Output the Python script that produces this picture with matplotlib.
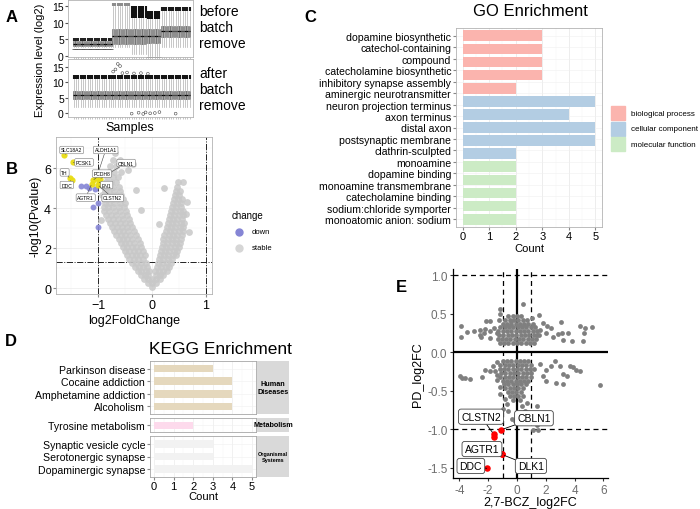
import numpy as np
import matplotlib
matplotlib.use('Agg')
import matplotlib.pyplot as plt
from matplotlib.patches import Rectangle
from matplotlib.lines import Line2D

plt.rcParams['font.family'] = ['Liberation Sans', 'DejaVu Sans']

# ---------------- DATA ----------------
# Panel A: per-group boxplot statistics (log2 expression)
a_group_sizes = [17, 8, 7, 6, 13]
before_whislo = [2.6, 2.5, 0.5, 0.0, 2.5]
before_q1 = [3.0, 3.5, 3.6, 3.8, 5.5]
before_med = [3.6, 5.8, 6.0, 6.0, 7.5]
before_q3 = [4.3, 8.2, 8.0, 8.0, 9.0]
before_whishi = [4.6, 15.0, 11.5, 11.0, 13.5]
before_band_lo = [4.4, 15.0, 11.5, 11.2, 13.6]
before_band_hi = [5.2, 16.0, 15.0, 13.6, 14.6]
before_low_out = [2.0, np.nan, np.nan, -0.3, np.nan]
after_whislo, after_q1, after_med, after_q3, after_whishi = 1.8, 4.7, 6.0, 7.1, 11.0
after_band_lo, after_band_hi = 11.0, 12.4
after_out_sample = [18, 19, 20, 21, 22, 24, 27, 30, 33, 26, 29, 31, 32, 34, 36, 38, 45]
after_out_value = [13.5, 14.2, 16.0, 15.3, 13.0, 13.2, 12.9, 13.0, 12.8,
                   -0.2, 0.1, -0.3, 0.2, -0.1, 0.0, 0.3, -0.2]

# Panel B: volcano plot
stable_row_y = [0.05, 0.25, 0.45, 0.65, 0.85, 1.05, 1.25, 1.45, 1.65, 1.85, 2.05, 2.25,
                2.45, 2.65, 2.85, 3.05, 3.25, 3.45, 3.65, 3.85, 4.05, 4.25, 4.45, 4.65,
                4.85, 5.05, 5.3, 5.55, 5.8, 6.1, 6.4, 6.75]
stable_row_x = [
    [0.0],
    [-0.08, 0.0, 0.08],
    [-0.15, -0.08, 0.0, 0.08, 0.15],
    [-0.21, -0.14, -0.07, 0.07, 0.14, 0.21],
    [-0.27, -0.2, -0.12, -0.05, 0.05, 0.12, 0.2, 0.27],
    [-0.32, -0.25, -0.17, -0.09, 0.09, 0.17, 0.25, 0.32],
    [-0.37, -0.29, -0.21, -0.12, 0.11, 0.19, 0.27, 0.35],
    [-0.42, -0.34, -0.26, -0.17, 0.13, 0.21, 0.29, 0.37],
    [-0.46, -0.38, -0.3, -0.22, -0.14, 0.14, 0.22, 0.3, 0.38, 0.44],
    [-0.5, -0.42, -0.34, -0.26, -0.17, 0.16, 0.24, 0.32, 0.4, 0.47],
    [-0.54, -0.46, -0.38, -0.3, -0.2, 0.18, 0.26, 0.34, 0.42, 0.5],
    [-0.58, -0.5, -0.42, -0.33, -0.23, 0.2, 0.28, 0.36, 0.44, 0.52],
    [-0.62, -0.54, -0.46, -0.37, -0.26, 0.21, 0.29, 0.37, 0.45, 0.54],
    [-0.66, -0.58, -0.5, -0.41, -0.3, 0.23, 0.31, 0.39, 0.47, 0.56],
    [-0.7, -0.62, -0.53, -0.44, -0.33, 0.25, 0.33, 0.41, 0.49, 0.57],
    [-0.74, -0.65, -0.56, -0.47, -0.37, 0.27, 0.35, 0.43, 0.51, 0.58],
    [-0.78, -0.69, -0.6, -0.5, -0.4, 0.29, 0.37, 0.45, 0.53, 0.6],
    [-0.82, -0.73, -0.63, -0.53, -0.43, 0.31, 0.39, 0.47, 0.55],
    [-0.86, -0.76, -0.66, -0.56, -0.46, 0.33, 0.41, 0.49, 0.57],
    [-0.89, -0.79, -0.69, -0.59, -0.49, 0.35, 0.43, 0.51, 0.58],
    [-0.9, -0.81, -0.72, -0.62, -0.52, 0.37, 0.45, 0.53],
    [-0.88, -0.79, -0.7, -0.6, -0.5, 0.38, 0.46, 0.54],
    [-0.9, -0.82, -0.73, -0.63, -0.54, 0.4, 0.48, 0.56],
    [-0.92, -0.84, -0.75, -0.66, -0.57, 0.42, 0.5],
    [-0.88, -0.79, -0.7, -0.6, 0.44, 0.52],
    [-0.9, -0.81, -0.72, -0.62, 0.46],
    [-0.86, -0.76, -0.66, 0.48],
    [-0.83, -0.73, -0.63],
    [-0.8, -0.7, -0.58],
    [-0.78, -0.66],
    [-0.72, -0.6],
    [-0.68],
]
stable_extra_x = [-0.3, -0.2, 0.12, 0.62, 0.65, 0.22, -0.45, 0.68, 0.58, -0.35, -0.95]
stable_extra_y = [4.9, 3.9, 3.2, 3.7, 4.3, 5.0, 5.9, 2.8, 5.3, 6.2, 3.4]
down_x = [-1.32, -1.23, -1.16, -1.09, -1.0, -1.0, -1.05]
down_y = [5.1, 5.1, 5.0, 4.05, 4.25, 3.05, 4.95]
gene_names = ['SLC18A2', 'ALDH1A1', 'PCSK1', 'CBLN1', 'TH', 'PCDH8', 'DDC', 'EN1', 'AGTR1', 'CLSTN2']
gene_x = [-1.63, -1.03, -1.46, -0.97, -1.52, -1.1, -1.49, -0.98, -1.12, -1.0]
gene_y = [6.65, 5.5, 6.28, 5.45, 5.48, 5.38, 5.42, 5.28, 5.2, 5.15]
gene_lab_x = [-1.49, -0.86, -1.26, -0.48, -1.62, -0.93, -1.58, -0.84, -1.23, -0.73]
gene_lab_y = [6.9, 6.9, 6.28, 6.25, 5.78, 5.72, 5.15, 5.15, 4.52, 4.5]

# Panel C: GO enrichment
go_labels = ['dopamine biosynthetic', 'catechol-containing', 'compound',
             'catecholamine biosynthetic', 'inhibitory synapse assembly',
             'aminergic neurotransmitter', 'neuron projection terminus', 'axon terminus',
             'distal axon', 'postsynaptic membrane', 'clathrin-sculpted', 'monoamine',
             'dopamine binding', 'monoamine transmembrane', 'catecholamine binding',
             'sodium:chloride symporter', 'monoatomic anion: sodium']
go_counts = [3, 3, 3, 3, 2, 5, 4, 5, 5, 2, 2, 2, 2, 2, 2]
go_category = ['biological process'] * 5 + ['cellular component'] * 5 + ['molecular function'] * 5
go_cat_names = ['biological process', 'cellular component', 'molecular function']
go_cat_colors = ['#FBB4AE', '#B3CDE3', '#CCEBC5']

# Panel D: KEGG enrichment
kegg_facets = ['Human\nDiseases', 'Metabolism', 'Organismal\nSystems']
kegg_terms = [['Parkinson disease', 'Cocaine addiction', 'Amphetamine addiction', 'Alcoholism'],
              ['Tyrosine metabolism'],
              ['Synaptic vesicle cycle', 'Serotonergic synapse', 'Dopaminergic synapse']]
kegg_counts = [[3, 4, 4, 4], [2], [3, 3, 5]]
kegg_colors = ['#E5D8BD', '#FDDAEC', '#F2F2F2']

# Panel E: PD vs 2,7-BCZ log2FC
e_up_row_y = [0.12, 0.17, 0.22, 0.27, 0.32, 0.37, 0.42, 0.47]
e_up_row_x = [
    [-1.2, -0.9, -0.6, -0.3, 0.0, 0.3, 0.6, 0.9, 1.2],
    [-1.35, -1.05, -0.75, -0.45, -0.15, 0.15, 0.45, 0.75, 1.05, 1.35],
    [-1.25, -0.95, -0.65, -0.35, -0.05, 0.25, 0.55, 0.85, 1.15, 1.5],
    [-1.3, -1.0, -0.7, -0.4, -0.1, 0.2, 0.5, 0.8, 1.1, 1.4],
    [-1.15, -0.85, -0.55, -0.25, 0.05, 0.35, 0.65, 0.95, 1.25],
    [-1.0, -0.7, -0.4, -0.1, 0.2, 0.5, 0.8, 1.1],
    [-0.8, -0.5, -0.2, 0.1, 0.4, 0.7],
    [-0.6, -0.3, 0.0, 0.3],
]
e_low_row_y = [-0.12, -0.17, -0.22, -0.27, -0.32, -0.37, -0.42, -0.47, -0.52, -0.57, -0.62]
e_low_row_x = [
    [-1.0, -0.7, -0.4, -0.1, 0.2, 0.5, 0.8],
    [-1.15, -0.85, -0.55, -0.25, 0.05, 0.35, 0.65, 0.95],
    [-1.2, -0.9, -0.6, -0.3, 0.0, 0.3, 0.6, 0.9, 1.2],
    [-1.1, -0.8, -0.5, -0.2, 0.1, 0.4, 0.7, 1.0],
    [-1.15, -0.85, -0.55, -0.25, 0.05, 0.35, 0.65, 0.95],
    [-1.0, -0.7, -0.4, -0.1, 0.2, 0.5, 0.8],
    [-0.9, -0.6, -0.3, 0.0, 0.3, 0.6],
    [-0.8, -0.5, -0.2, 0.1, 0.4],
    [-0.65, -0.35, -0.05, 0.25],
    [-0.5, -0.2, 0.1, 0.45],
    [-0.3, 0.2],
]
e_scatter_x = [-3.89, -3.89, -3.5, -2.98, -2.57, -2.6, -2.22, -2.15, -1.87, -1.9, -1.57, -1.41,
               -1.18, -1.18, -1.27, -0.44, 0.44, 1.02, 1.55, 1.83, 2.1, 2.39, 3.05, 3.1, 3.56,
               3.79, 3.2, 4.6, 4.37, 4.72, 5.19, 4.65, 2.5, 2.85, 2.04, 1.59, 1.36, -2.5, -2.26,
               -1.9,
               -3.95, -3.84, -3.6, -3.26, -2.45, -2.22, -1.87, -1.64, -1.41, -1.53, -1.41, -1.41,
               -1.18, 1.59, 2.04, 2.39, 2.62, 2.97, 3.2, 3.66, 3.89, 4.12, 4.35, 5.76, 1.8, 2.04,
               2.73, 3.2, 3.5,
               -1.18, -0.83, -0.72, -0.95, -0.6, -0.37, -0.02, 0.32, 0.67, 0.9, 1.37, 1.13, 1.37,
               1.48, 1.13, 0.55, -0.13]
e_scatter_y = [0.34, 0.2, 0.26, 0.27, 0.29, 0.22, 0.30, 0.4, 0.4, 0.27, 0.31, 0.25,
               0.56, 0.5, 0.41, 0.4, 0.62, 0.44, 0.48, 0.38, 0.34, 0.31, 0.39, 0.25, 0.25,
               0.14, 0.16, 0.14, 0.34, 0.31, 0.32, 0.25, 0.2, 0.24, 0.25, 0.29, 0.22, 0.2, 0.25,
               0.18,
               -0.31, -0.34, -0.34, -0.35, -0.32, -0.23, -0.25, -0.18, -0.13, -0.25, -0.3, -0.36,
               -0.45, -0.15, -0.23, -0.18, -0.12, -0.18, -0.29, -0.18, -0.2, -0.23, -0.25, -0.43,
               -0.31, -0.38, -0.4, -0.42, -0.31,
               -0.55, -0.61, -0.68, -0.74, -0.76, -0.87, -0.79, -0.70, -0.66, -0.79, -0.7, -0.87,
               -0.95, -1.01, -1.01, -0.76, -0.9]
e_hit_names = ['CLSTN2', 'CBLN1', 'AGTR1', 'DDC', 'DLK1']
e_hit_x = [-1.6, -1.1, -1.02, -2.1, -1.05]
e_hit_y = [-1.07, -1.01, -1.32, -1.51, -1.33]
e_extra_hit_x = [-1.62]
e_extra_hit_y = [-1.1]
e_lab_x = [-2.5, 1.18, -2.43, -3.2, 0.97]
e_lab_y = [-0.84, -0.86, -1.26, -1.48, -1.48]

# ---------------- FIGURE ----------------
W, H = 700, 510
fig = plt.figure(figsize=(7, 5.1), dpi=100)


def box(x0, y0, x1, y1):
    return [x0 / W, 1 - y1 / H, (x1 - x0) / W, (y1 - y0) / H]


def fx(px):
    return px / W


def fy(py):
    return 1 - py / H


def panel_letter(s, px, py):
    fig.text(fx(px), fy(py), s, fontsize=12, fontweight='bold', ha='left', va='center')


# ---------------- Panel A ----------------
n_samples = sum(a_group_sizes)
pos = np.arange(1, n_samples + 1)
gidx = np.repeat(np.arange(len(a_group_sizes)), a_group_sizes)
band_colors = ['#222222', '#8c8c8c', '#111111', '#111111', '#1a1a1a']

axA1 = fig.add_axes(box(68, 1, 193, 58))
axA2 = fig.add_axes(box(68, 60, 193, 118))

bx_kw = dict(widths=0.7, showfliers=False, showcaps=False, patch_artist=True,
             boxprops=dict(facecolor='#a8a8a8', edgecolor='#5a5a5a', linewidth=0.4),
             whiskerprops=dict(color='#b0b0b0', linewidth=0.5),
             medianprops=dict(color='black', linewidth=0.9))

stats_before = [dict(med=before_med[g], q1=before_q1[g], q3=before_q3[g],
                     whislo=before_whislo[g], whishi=before_whishi[g], fliers=[]) for g in gidx]
axA1.bxp(stats_before, positions=pos, **bx_kw)
axA1.vlines(pos, np.array(before_band_lo)[gidx], np.array(before_band_hi)[gidx],
            colors=[band_colors[g] for g in gidx], lw=1.5)
low = np.array(before_low_out)[gidx]
axA1.scatter(pos, low, marker='_', s=5, color='#555555', linewidths=0.6)

stats_after = [dict(med=after_med, q1=after_q1, q3=after_q3, whislo=after_whislo,
                    whishi=after_whishi, fliers=[]) for _ in pos]
axA2.bxp(stats_after, positions=pos, **bx_kw)
axA2.vlines(pos, after_band_lo, after_band_hi, color='#151515', lw=1.5)
axA2.scatter(after_out_sample, after_out_value, s=4, facecolors='none',
             edgecolors='#444444', linewidths=0.4)

for ax, yl in ((axA1, (-0.4, 16.8)), (axA2, (-1.3, 17.6))):
    ax.set_xlim(-1.5, n_samples + 1.5)
    ax.set_ylim(*yl)
    ax.set_yticks([0, 5, 10, 15])
    ax.set_xticks(pos)
    ax.set_xticklabels([])
    ax.tick_params(axis='x', length=1.5, width=0.4, color='#999999')
    ax.tick_params(axis='y', labelsize=7.5, length=2, color='#555555', pad=1)
    for sp in ax.spines.values():
        sp.set_color('#b3b3b3')
        sp.set_linewidth(0.6)

fig.text(fx(40), fy(60), 'Expression level (log2)', rotation=90, ha='center', va='center', fontsize=8)
fig.text(fx(130), fy(128), 'Samples', ha='center', va='center', fontsize=9)
fig.text(fx(199), fy(28), 'before\nbatch\nremove', ha='left', va='center', fontsize=10,
         linespacing=1.2)
fig.text(fx(199), fy(90), 'after\nbatch\nremove', ha='left', va='center', fontsize=10,
         linespacing=1.2)
panel_letter('A', 6, 17)

# ---------------- Panel B ----------------
axB = fig.add_axes(box(56, 138, 212, 295))
sx = [x for xs in stable_row_x for x in xs] + stable_extra_x
sy = [y for y, xs in zip(stable_row_y, stable_row_x) for _ in xs] + stable_extra_y
axB.scatter(sx, sy, s=24, color='#c8c8c8', alpha=0.85, linewidths=0, zorder=2)
axB.scatter(down_x, down_y, s=18, color='#8585d5', alpha=0.9, linewidths=0, zorder=3)
axB.scatter(gene_x, gene_y, s=20, color='#e8dc14', alpha=0.95, linewidths=0, zorder=4)
for v in (-1, 1):
    axB.axvline(v, color='#222222', lw=0.7, ls='-.', zorder=1)
axB.axhline(1.3, color='#222222', lw=0.7, ls='-.', zorder=1)
for n, gx, gy, lx, ly in zip(gene_names, gene_x, gene_y, gene_lab_x, gene_lab_y):
    axB.annotate(n, xy=(gx, gy), xytext=(lx, ly), fontsize=3.6, ha='center', va='center',
                 bbox=dict(boxstyle='round,pad=0.25', fc='white', ec='#777777', lw=0.4),
                 arrowprops=dict(arrowstyle='-', color='#444444', lw=0.4, shrinkA=0, shrinkB=1),
                 zorder=6)
axB.set_xlim(-1.78, 1.11)
axB.set_ylim(-0.3, 7.55)
axB.set_xticks([-1, 0, 1])
axB.set_yticks([0, 2, 4, 6])
axB.set_xticks([-1.5, -0.5, 0.5], minor=True)
axB.set_yticks([1, 3, 5, 7], minor=True)
axB.grid(True, which='major', color='#ebebeb', lw=0.5, zorder=0)
axB.grid(True, which='minor', color='#f3f3f3', lw=0.3, zorder=0)
axB.set_axisbelow(True)
axB.tick_params(which='minor', length=0)
axB.tick_params(which='major', labelsize=9, length=2, color='#888888', pad=1.5)
for sp in axB.spines.values():
    sp.set_color('#b3b3b3')
    sp.set_linewidth(0.6)
axB.set_xlabel('log2FoldChange', fontsize=9, labelpad=2)
axB.set_ylabel('-log10(Pvalue)', fontsize=9, labelpad=2)
fig.text(fx(232), fy(216), 'change', fontsize=7, ha='left', va='center')
fig.add_artist(Line2D([fx(239)], [fy(233)], marker='o', ms=5, color='#8585d5', ls='none',
                      transform=fig.transFigure))
fig.add_artist(Line2D([fx(239)], [fy(249)], marker='o', ms=5, color='#d6d6d6', ls='none',
                      transform=fig.transFigure))
fig.text(fx(252), fy(233), 'down', fontsize=5.5, ha='left', va='center')
fig.text(fx(252), fy(249), 'stable', fontsize=5.5, ha='left', va='center')
panel_letter('B', 6, 170)

# ---------------- Panel C ----------------
axC = fig.add_axes(box(456, 29, 602, 228))
ypos = np.arange(len(go_counts))
cols = [go_cat_colors[go_cat_names.index(c)] for c in go_category]
axC.barh(ypos, go_counts, height=0.82, color=cols, zorder=2)
axC.set_ylim(len(go_counts) - 0.4, -0.6)
axC.set_xlim(-0.25, 5.25)
axC.set_yticks(np.linspace(0, len(go_counts) - 1, len(go_labels)))
axC.set_yticklabels(go_labels, fontsize=7.6)
axC.set_xticks([0, 1, 2, 3, 4, 5])
axC.set_xticks([0.5, 1.5, 2.5, 3.5, 4.5], minor=True)
axC.tick_params(axis='x', labelsize=8, length=2, color='#888888', pad=1)
axC.tick_params(axis='y', length=2, color='#888888', pad=1.5)
axC.tick_params(which='minor', length=0)
axC.grid(True, axis='x', which='major', color='#e6e6e6', lw=0.5, zorder=0)
axC.grid(True, axis='x', which='minor', color='#f2f2f2', lw=0.3, zorder=0)
axC.grid(True, axis='y', which='major', color='#f0f0f0', lw=0.4, zorder=0)
axC.set_axisbelow(True)
for sp in axC.spines.values():
    sp.set_color('#b3b3b3')
    sp.set_linewidth(0.6)
axC.set_xlabel('Count', fontsize=8, labelpad=1)
fig.text(fx(530), fy(12), 'GO Enrichment', ha='center', va='center', fontsize=12)
for i, (nm, c) in enumerate(zip(go_cat_names, go_cat_colors)):
    y0 = 107 + i * 15.7
    fig.add_artist(Rectangle((fx(611), fy(y0 + 14)), fx(14), 14 / H, color=c,
                             transform=fig.transFigure))
    fig.text(fx(631), fy(y0 + 7), nm, fontsize=5.8, ha='left', va='center')
panel_letter('C', 304, 17)

# ---------------- Panel D ----------------
facet_px = [(362, 415), (419, 433), (437, 478)]
for k, (top, bot) in enumerate(facet_px):
    ax = fig.add_axes(box(150, top, 256, bot))
    n = len(kegg_counts[k])
    yy = np.arange(n)
    ax.barh(yy, kegg_counts[k], height=0.6, color=kegg_colors[k], zorder=2)
    ax.set_ylim(n - 0.4, -0.6)
    ax.set_xlim(-0.2, 5.2)
    ax.set_yticks(yy)
    ax.set_yticklabels(kegg_terms[k], fontsize=7.6)
    ax.set_xticks([0, 1, 2, 3, 4, 5])
    ax.set_xticks([0.5, 1.5, 2.5, 3.5, 4.5], minor=True)
    ax.tick_params(which='minor', length=0)
    ax.tick_params(axis='y', length=2, color='#888888', pad=1.5)
    ax.tick_params(axis='x', length=2 if k == 2 else 0, color='#888888', labelsize=8, pad=1)
    if k < 2:
        ax.set_xticklabels([])
    ax.grid(True, axis='x', which='major', color='#ebebeb', lw=0.5, zorder=0)
    ax.grid(True, axis='x', which='minor', color='#f5f5f5', lw=0.3, zorder=0)
    ax.grid(True, axis='y', which='major', color='#f0f0f0', lw=0.4, zorder=0)
    ax.set_axisbelow(True)
    for sp in ax.spines.values():
        sp.set_color('#a6a6a6')
        sp.set_linewidth(0.6)
    if k == 2:
        ax.set_xlabel('Count', fontsize=8, labelpad=0)
    sax = fig.add_axes(box(257, top, 289, bot))
    sax.set_facecolor('#d9d9d9')
    sax.set_xticks([])
    sax.set_yticks([])
    for sp in sax.spines.values():
        sp.set_visible(False)
    fsz = [5.2, 5.2, 4.0][k]
    sax.text(0.5, 0.5, kegg_facets[k], transform=sax.transAxes, ha='center', va='center',
             fontsize=fsz, fontweight='bold', linespacing=1.1)
fig.text(fx(220), fy(350), 'KEGG Enrichment', ha='center', va='center', fontsize=12.5)
panel_letter('D', 5, 342)

# ---------------- Panel E ----------------
axE = fig.add_axes(box(453, 270, 608, 479))
ex = [x for xs in e_up_row_x for x in xs] + [x for xs in e_low_row_x for x in xs] + e_scatter_x
ey = ([y for y, xs in zip(e_up_row_y, e_up_row_x) for _ in xs] +
      [y for y, xs in zip(e_low_row_y, e_low_row_x) for _ in xs] + e_scatter_y)
axE.axhline(0, color='black', lw=1.6, zorder=1)
axE.axvline(0, color='black', lw=1.6, zorder=1)
for v in (-1, 1):
    axE.axhline(v, color='black', lw=0.9, ls=(0, (4, 3)), zorder=1)
    axE.axvline(v, color='black', lw=0.9, ls=(0, (4, 3)), zorder=1)
axE.scatter(ex, ey, s=12, color='#7f7f7f', linewidths=0, zorder=2)
axE.scatter(e_hit_x + e_extra_hit_x, e_hit_y + e_extra_hit_y, s=22, color='#ff0000',
            linewidths=0, zorder=3)
for n, hx, hy, lx, ly in zip(e_hit_names, e_hit_x, e_hit_y, e_lab_x, e_lab_y):
    axE.annotate(n, xy=(hx, hy), xytext=(lx, ly), fontsize=7.5, ha='center', va='center',
                 bbox=dict(boxstyle='round,pad=0.25', fc='white', ec='#444444', lw=0.6),
                 arrowprops=dict(arrowstyle='-', color='black', lw=0.6, shrinkA=0, shrinkB=2),
                 zorder=5)
axE.set_xlim(-4.44, 6.32)
axE.set_ylim(-1.636, 1.078)
axE.set_xticks([-4, -2, 0, 2, 4, 6])
axE.set_yticks([-1.5, -1.0, -0.5, 0.0, 0.5, 1.0])
axE.set_yticklabels(['-1.5', '-1.0', '-0.5', '0.0', '0.5', '1.0'])
axE.set_xticklabels(['-4', '-2', '0', '2', '4', '6'])
axE.tick_params(labelsize=8.5, labelcolor='#6e6e6e', length=2.5, color='#333333', pad=1.5)
for s in ('top', 'right'):
    axE.spines[s].set_visible(False)
for s in ('left', 'bottom'):
    axE.spines[s].set_linewidth(0.9)
axE.set_xlabel('2,7-BCZ_log2FC', fontsize=9, labelpad=0)
axE.set_ylabel('PD_log2FC', fontsize=9, labelpad=2)
panel_letter('E', 396, 288)

fig.savefig('out.png', dpi=100)
